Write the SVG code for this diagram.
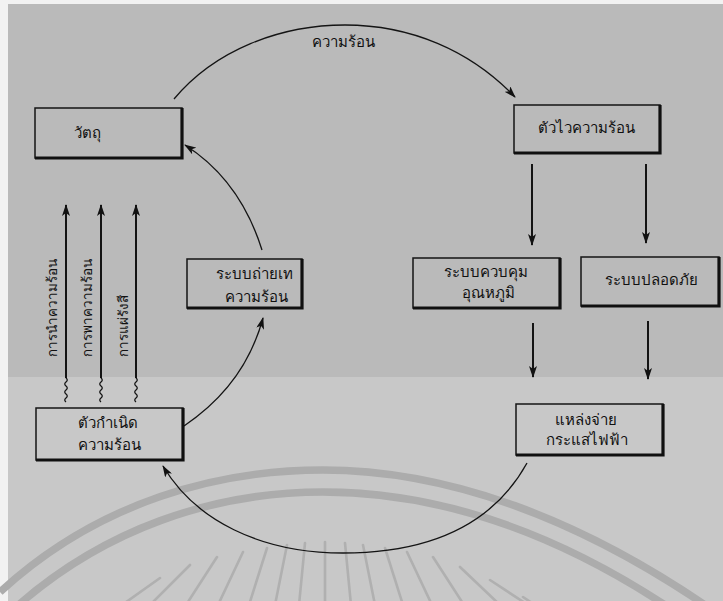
<svg xmlns="http://www.w3.org/2000/svg" width="723" height="601" viewBox="0 0 723 601">
<style>
.bx{fill:none;stroke:#151515;stroke-width:1.5}
.sh{fill:none;stroke:#101010;stroke-width:3.2}
.t{font-family:"Noto Sans","Liberation Sans",sans-serif;font-size:15px;fill:#111;text-anchor:middle}
.vt{font-family:"Noto Sans","Liberation Sans",sans-serif;font-size:13.5px;fill:#111}
.arc{fill:none;stroke:#141414;stroke-width:1.3}
.ar{fill:none;stroke:#141414;stroke-width:2}
.wm{fill:none;stroke:#acacac;stroke-width:7.5}
.ray{stroke:#b0b0b0;stroke-width:2.6;stroke-linecap:round}
</style>
<defs>
<marker id="ah" viewBox="0 0 12 8" refX="11" refY="4" markerUnits="userSpaceOnUse" markerWidth="12" markerHeight="8" orient="auto">
<path d="M0,0 L12,4 L0,8 L3,4 z" fill="#111"/>
</marker>
</defs>
<rect width="723" height="601" fill="#f2f2f2"/>
<rect x="8" y="4" width="715" height="373" fill="#bababa"/>
<rect x="8" y="377" width="715" height="224" fill="#c8c8c8"/>
<g id="watermark">
<path class="wm" d="M0,592 C100,500 220,470 323,470 C450,470 580,520 705,605"/>
<path class="wm" d="M0,622 C100,525 220,492 323,492 C450,492 570,540 680,615"/>
<g class="ray">
<line x1="325" y1="542" x2="325" y2="605"/>
<line x1="305" y1="543" x2="299" y2="605"/>
<line x1="345" y1="543" x2="351" y2="605"/>
<line x1="287" y1="545" x2="275" y2="605"/>
<line x1="363" y1="545" x2="375" y2="605"/>
<line x1="267" y1="548" x2="249" y2="605"/>
<line x1="385" y1="548" x2="403" y2="605"/>
<line x1="243" y1="552" x2="218" y2="605"/>
<line x1="407" y1="552" x2="432" y2="605"/>
<line x1="217" y1="557" x2="186" y2="605"/>
<line x1="433" y1="557" x2="464" y2="605"/>
<line x1="190" y1="565" x2="150" y2="605"/>
<line x1="460" y1="567" x2="500" y2="605"/>
<line x1="160" y1="578" x2="122" y2="605"/>
<line x1="490" y1="580" x2="528" y2="605"/>
<line x1="523" y1="597" x2="535" y2="605"/>
</g>
</g>
<g id="connectors">
<path class="arc" d="M174,99 C215,50 280,25 345,25 C410,25 470,50 515,97" marker-end="url(#ah)"/>
<path class="arc" d="M527,463 C490,530 420,553 343,553 C260,553 195,520 163,466" marker-end="url(#ah)"/>
<path class="arc" d="M184,426 Q245,385 263,318" marker-end="url(#ah)"/>
<path class="arc" d="M262,250 Q240,180 185,145" marker-end="url(#ah)"/>
<line class="ar" x1="532" y1="164" x2="532" y2="245" marker-end="url(#ah)"/>
<line class="ar" x1="646" y1="164" x2="646" y2="243" marker-end="url(#ah)"/>
<line class="ar" x1="533" y1="323" x2="533" y2="377" marker-end="url(#ah)"/>
<line class="ar" x1="648" y1="321" x2="648" y2="379" marker-end="url(#ah)"/>
<line class="ar" x1="66" y1="378" x2="66" y2="205" marker-end="url(#ah)"/>
<line class="ar" x1="101" y1="378" x2="101" y2="205" marker-end="url(#ah)"/>
<line class="ar" x1="136" y1="378" x2="136" y2="205" marker-end="url(#ah)"/>
<path class="arc" d="M66,378 q2.5,2 0,4 q-2.5,2 0,4 q2.5,2 0,4 q-2.5,2 0,4 q2.5,2 0,4 q-2.5,2 0,4"/>
<path class="arc" d="M101,378 q2.5,2 0,4 q-2.5,2 0,4 q2.5,2 0,4 q-2.5,2 0,4 q2.5,2 0,4 q-2.5,2 0,4"/>
<path class="arc" d="M136,378 q2.5,2 0,4 q-2.5,2 0,4 q2.5,2 0,4 q-2.5,2 0,4 q2.5,2 0,4 q-2.5,2 0,4"/>
<text class="t" x="343" y="47">ความร้อน</text>
<text class="vt" transform="translate(57,357) rotate(-90)">การนำความร้อน</text>
<text class="vt" transform="translate(92,357) rotate(-90)">การพาความร้อน</text>
<text class="vt" transform="translate(128,357) rotate(-90)">การแผ่รังสี</text>
</g>
<g id="n1">
<rect class="bx" x="35" y="108" width="147" height="50"/>
<polyline class="sh" points="182,108 182,158 35,158"/>
<text class="t" x="87" y="138">วัตถุ</text>
</g>
<g id="n2">
<rect class="bx" x="514" y="105" width="146" height="48"/>
<polyline class="sh" points="660,105 660,153 514,153"/>
<text class="t" x="586" y="133">ตัวไวความร้อน</text>
</g>
<g id="n3">
<rect class="bx" x="187" y="259" width="115" height="49"/>
<polyline class="sh" points="302,259 302,308 187,308"/>
<text class="t" x="254" y="279">ระบบถ่ายเท</text>
<text class="t" x="256" y="302">ความร้อน</text>
</g>
<g id="n4">
<rect class="bx" x="413" y="258" width="147" height="50"/>
<polyline class="sh" points="560,258 560,308 413,308"/>
<text class="t" x="486" y="277">ระบบควบคุม</text>
<text class="t" x="488" y="298">อุณหภูมิ</text>
</g>
<g id="n5">
<rect class="bx" x="581" y="257" width="138" height="49"/>
<polyline class="sh" points="719,257 719,306 581,306"/>
<text class="t" x="651" y="285">ระบบปลอดภัย</text>
</g>
<g id="n6">
<rect class="bx" x="36" y="408" width="147" height="52"/>
<polyline class="sh" points="183,408 183,460 36,460"/>
<text class="t" x="108" y="428">ตัวกำเนิด</text>
<text class="t" x="109" y="450">ความร้อน</text>
</g>
<g id="n7">
<rect class="bx" x="516" y="404" width="147" height="51"/>
<polyline class="sh" points="663,404 663,455 516,455"/>
<text class="t" x="586" y="425">แหล่งจ่าย</text>
<text class="t" x="587" y="445">กระแสไฟฟ้า</text>
</g>
</svg>
